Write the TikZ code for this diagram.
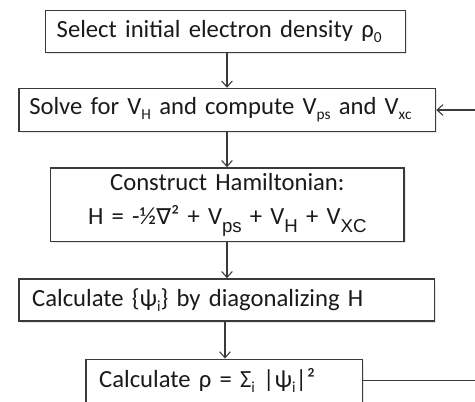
\documentclass[tikz,border=0pt]{standalone}
\usepackage{fontspec}
\setmainfont{Carlito}
\newfontfamily\symfont{DejaVu Sans}
\newfontfamily\arialfont{Liberation Sans}
\usetikzlibrary{arrows.meta,shadows}
\definecolor{edge}{HTML}{3A3A3A}
\definecolor{ink}{HTML}{1A1A1A}
\newcommand\lo[1]{\raisebox{-0.45ex}{\fontsize{11.5}{11.5}\selectfont #1}}
\newcommand\loa[1]{\raisebox{-0.7ex}{\arialfont\fontsize{14}{14}\selectfont #1}}
\tikzset{
  stepbox/.style={draw=edge, line width=1.1pt, fill=white, text=ink,
    font=\fontsize{18.5}{22}\selectfont, inner xsep=0pt, inner ysep=0pt,
    drop shadow={opacity=0.18, shadow xshift=1.2pt, shadow yshift=-1.2pt}},
  arr/.style={draw=edge, line width=0.8pt, -{Straight Barb[length=4.5pt,width=8pt]}}
}
\begin{document}
\begin{tikzpicture}[x=0.75pt,y=-0.75pt]
\useasboundingbox (0,0) rectangle (475,402);
\clip (0,0) rectangle (475,402);
\node[stepbox, minimum width={360*0.75pt}, minimum height={42*0.75pt},
  text width={338*0.75pt}, align=left] (b1) at (225.7,31.7)
  {Select initial electron density ρ\lo{0}};
\node[stepbox, minimum width={416.5*0.75pt}, minimum height={43*0.75pt},
  text width={396*0.75pt}, align=left] (b2) at (227.25,110)
  {Solve for V\lo{H} and compute V\lo{ps} and V\lo{xc}};
\node[stepbox, minimum width={353.3*0.75pt}, minimum height={73.7*0.75pt},
  text width={340*0.75pt}, align=center, font=\fontsize{18.5}{25}\selectfont] (b3) at (227.35,204.85)
  {Construct Hamiltonian:\\H = -½{\symfont\fontsize{16.5}{16.5}\selectfont ∇}² + V\loa{ps} + V\loa{H} + V\loa{XC}};
\node[stepbox, minimum width={415.3*0.75pt}, minimum height={42*0.75pt},
  text width={389*0.75pt}, align=left] (b4) at (226.65,300)
  {Calculate \{ψ\lo{i}\} by diagonalizing H};
\node[stepbox, minimum width={276.3*0.75pt}, minimum height={43*0.75pt},
  text width={250*0.75pt}, align=left] (b5) at (224.15,380.8)
  {Calculate ρ = Σ\lo{i} |ψ\lo{i}|²};
\draw[arr] (b1.south -| 227,0) -- (b2.north -| 227,0);
\draw[arr] (b2.south -| 227,0) -- (b3.north -| 227,0);
\draw[arr] (b3.south -| 227,0) -- (b4.north -| 227,0);
\draw[arr] (b4.south -| 225,0) -- (b5.north -| 225,0);
\draw[arr] (b5.east) -- ++(125,0) |- (b2.east);
\end{tikzpicture}
\end{document}
